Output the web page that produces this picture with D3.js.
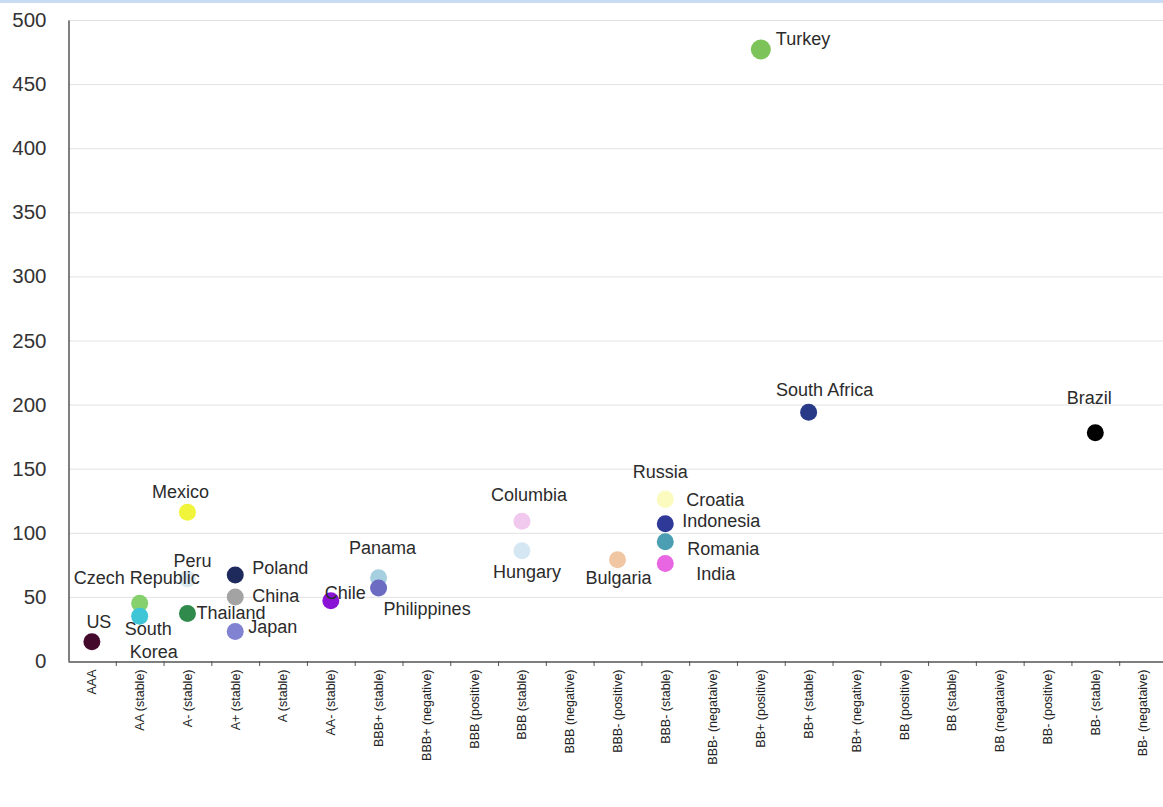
<!DOCTYPE html>
<html>
<head>
<meta charset="utf-8">
<script src="https://cdn.jsdelivr.net/npm/d3@7/dist/d3.min.js"></script>
<style>
  html, body { margin: 0; padding: 0; background: #fff; }
  svg { display: block; font-family: "Liberation Sans", Arial, sans-serif; }
</style>
</head>
<body>
<svg id="chart" width="1163" height="807"></svg>
<script>
// Sovereign rating buckets (x axis)
const ratings = [
  "AAA", "AA (stable)", "A- (stable)", "A+ (stable)", "A (stable)", "AA- (stable)",
  "BBB+ (stable)", "BBB+ (negative)", "BBB (positive)", "BBB (stable)", "BBB (negative)",
  "BBB- (positive)", "BBB- (stable)", "BBB- (negataive)", "BB+ (positive)", "BB+ (stable)",
  "BB+ (negative)", "BB (positive)", "BB (stable)", "BB (negataive)", "BB- (positive)",
  "BB- (stable)", "BB- (negataive)"
];

// Countries, their rating bucket and CDS spread
const countries = [
  "US", "Czech Republic", "South Korea", "Mexico", "Peru", "Thailand",
  "Poland", "China", "Japan", "Chile", "Panama", "Philippines",
  "Columbia", "Hungary", "Bulgaria", "Russia", "Croatia", "Indonesia",
  "Romania", "India", "Turkey", "South Africa", "Brazil"
];
const countryRating = [
  "AAA", "AA (stable)", "AA (stable)", "A- (stable)", "A- (stable)", "A- (stable)",
  "A+ (stable)", "A+ (stable)", "A+ (stable)", "AA- (stable)", "BBB+ (stable)", "BBB+ (stable)",
  "BBB (stable)", "BBB (stable)", "BBB- (positive)", "BBB- (stable)", "BBB- (stable)", "BBB- (stable)",
  "BBB- (stable)", "BBB- (stable)", "BB+ (positive)", "BB+ (stable)", "BB- (stable)"
];
const spreads = [
  15, 45, 35, 116, 64, 37,
  67, 50, 23, 47, 65, 57,
  109, 86, 79, 127, 126, 107,
  93, 76, 477, 194, 178
];

const yTicks = [0, 50, 100, 150, 200, 250, 300, 350, 400, 450, 500];

// Marker colours per country
const colors = {
  "US": "#430a2c", "Czech Republic": "#86d06e", "South Korea": "#3fc6d6",
  "Mexico": "#f0f53c", "Peru": "#dbe9f1", "Thailand": "#2f8a4c",
  "Poland": "#1f2a5c", "China": "#a3a3a3", "Japan": "#8282d2",
  "Chile": "#8a12d6", "Panama": "#a6d0e0", "Philippines": "#6c6cc2",
  "Columbia": "#f1c9ee", "Hungary": "#d5e7f2", "Bulgaria": "#f1c6a2",
  "Russia": "#fdfdea", "Croatia": "#fbfbbf", "Indonesia": "#2f3a98",
  "Romania": "#4c9fb2", "India": "#e866e2", "Turkey": "#7cc35a",
  "South Africa": "#283988", "Brazil": "#000000"
};

// Label placement relative to each marker: [dx, dy, anchor]; multi-line labels use lines
const labelPlacement = {
  "US": { dx: 7, dy: -14, anchor: "middle" },
  "Czech Republic": { dx: -3, dy: -19, anchor: "middle" },
  "South Korea": { dx: -15, dy: 19, anchor: "start", lines: ["South", "Korea"], lineDx: [0, 5] },
  "Mexico": { dx: -7, dy: -14, anchor: "middle" },
  "Peru": { dx: 5, dy: -12, anchor: "middle" },
  "Thailand": { dx: 9, dy: 5, anchor: "start" },
  "Poland": { dx: 17, dy: -1, anchor: "start" },
  "China": { dx: 17, dy: 5, anchor: "start" },
  "Japan": { dx: 13, dy: 1, anchor: "start" },
  "Chile": { dx: -6, dy: -2, anchor: "start" },
  "Panama": { dx: 4, dy: -24, anchor: "middle" },
  "Philippines": { dx: 5, dy: 27, anchor: "start" },
  "Columbia": { dx: 7, dy: -20, anchor: "middle" },
  "Hungary": { dx: 5, dy: 27, anchor: "middle" },
  "Bulgaria": { dx: 1, dy: 24, anchor: "middle" },
  "Russia": { dx: -5, dy: -20, anchor: "middle" },
  "Croatia": { dx: 21, dy: 7, anchor: "start" },
  "Indonesia": { dx: 17, dy: 3, anchor: "start" },
  "Romania": { dx: 22, dy: 13, anchor: "start" },
  "India": { dx: 31, dy: 16, anchor: "start" },
  "Turkey": { dx: 15, dy: -4, anchor: "start" },
  "South Africa": { dx: 16, dy: -16, anchor: "middle" },
  "Brazil": { dx: -6, dy: -29, anchor: "middle" }
};

const svg = d3.select("#chart");
const W = 1163;

// thin header strip along the top edge
svg.append("rect").attr("x", 0).attr("y", 0).attr("width", W).attr("height", 3)
  .attr("fill", "#c9dcf3");

const x = d3.scaleBand().domain(ratings).range([68, 1167]);
const y = d3.scaleLinear().domain([0, 500]).range([661, 20]);
const cx = r => x(r) + x.bandwidth() / 2;

// horizontal gridlines
svg.append("g").selectAll("line").data(yTicks.filter(t => t > 0)).join("line")
  .attr("x1", 68).attr("x2", W)
  .attr("y1", d => y(d) + 0.5).attr("y2", d => y(d) + 0.5)
  .attr("stroke", "#e2e2e2").attr("stroke-width", 1);

// y axis
const yAxis = svg.append("g").attr("transform", "translate(68.5,0)")
  .call(d3.axisLeft(y).tickValues(yTicks).tickSize(0).tickPadding(22));
yAxis.select(".domain").attr("stroke", "#555").attr("stroke-width", 1.5);
yAxis.selectAll("text").attr("font-size", 20.5).attr("fill", "#333")
  .attr("font-family", "Liberation Sans, Arial, sans-serif");

// x axis with labels rotated vertically
const xAxis = svg.append("g").attr("transform", "translate(0,661.5)")
  .call(d3.axisBottom(x).tickSize(0).tickPadding(0));
xAxis.select(".domain").attr("stroke", "#555").attr("stroke-width", 1.5);
xAxis.selectAll(".tick text")
  .attr("font-size", 12.5).attr("fill", "#222")
  .attr("font-family", "Liberation Sans, Arial, sans-serif")
  .attr("transform", "rotate(-90)")
  .attr("text-anchor", "end")
  .attr("x", -8).attr("y", 0).attr("dy", "0.35em");

// tick marks at bucket boundaries
svg.append("g").selectAll("line").data(ratings.slice(1)).join("line")
  .attr("x1", d => x(d) + 0.5).attr("x2", d => x(d) + 0.5)
  .attr("y1", 661).attr("y2", 666)
  .attr("stroke", "#555").attr("stroke-width", 1);

// markers
const pts = countries.map((c, i) => ({ name: c, rating: countryRating[i], value: spreads[i] }));
svg.append("g").selectAll("circle").data(pts).join("circle")
  .attr("cx", d => cx(d.rating))
  .attr("cy", d => y(d.value))
  .attr("r", d => d.name === "Turkey" ? 10 : 8.5)
  .attr("fill", d => colors[d.name]);

// country labels
const labels = svg.append("g")
  .attr("font-size", 18).attr("fill", "#2b2b2b")
  .attr("font-family", "Liberation Sans, Arial, sans-serif");
pts.forEach(d => {
  const p = labelPlacement[d.name];
  const t = labels.append("text")
    .attr("x", cx(d.rating) + p.dx)
    .attr("y", y(d.value) + p.dy)
    .attr("text-anchor", p.anchor);
  if (p.lines) {
    p.lines.forEach((ln, k) => {
      t.append("tspan")
        .attr("x", cx(d.rating) + p.dx + p.lineDx[k])
        .attr("dy", k === 0 ? 0 : 23)
        .text(ln);
    });
  } else {
    t.text(d.name);
  }
});
</script>
</body>
</html>
